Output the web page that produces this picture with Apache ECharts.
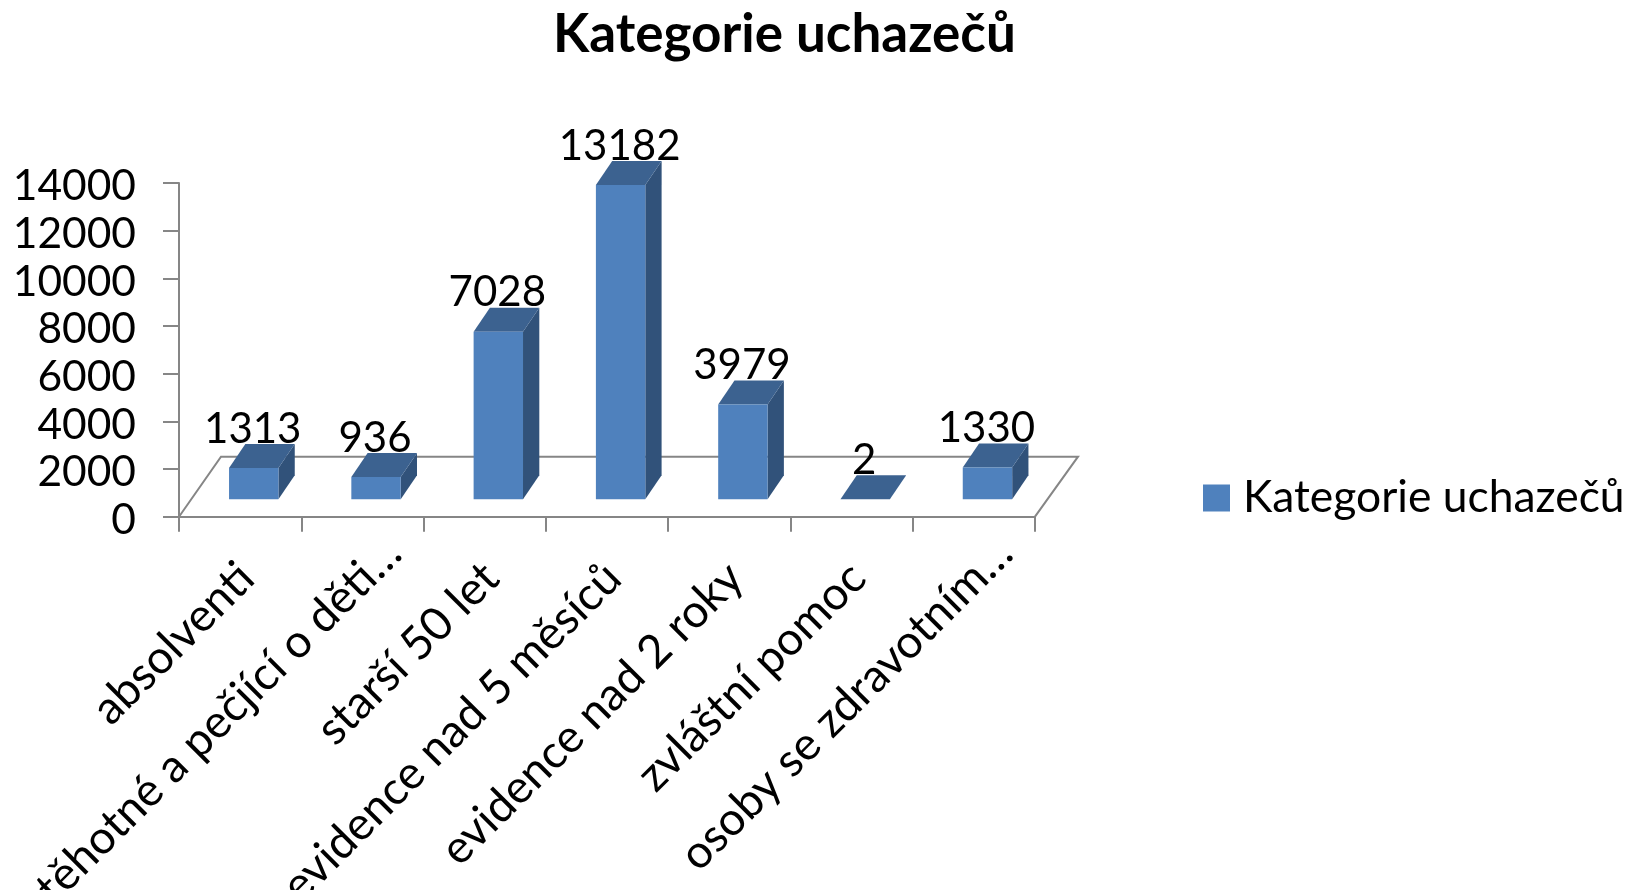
<!DOCTYPE html>
<html><head><meta charset="utf-8">
<style>html,body{margin:0;padding:0;background:#fff}#c{width:1626px;height:890px}</style>
<script src="https://cdn.jsdelivr.net/npm/echarts@6/dist/echarts.min.js"></script>
</head><body><div id="c"></div>
<script>
const categories = ['absolventi','těhotné a pečjící o děti…','starší 50 let','evidence nad 5 měsíců','evidence nad 2 roky','zvláštní pomoc','osoby se zdravotním…'];
const values = [1313,936,7028,13182,3979,2,1330];
const yTicks = [0,2000,4000,6000,8000,10000,12000,14000];
const seriesName = 'Kategorie uchazečů';
const FONT = 'Lato, Carlito, sans-serif';
const AXIS = '#868686';
const depth = {dx:16.3, dy:-24};
const shift = {dx:13.6, dy:-17.4};
const floorBack = {dx:42, dy:-60};
const barW = 49.4;
const chart = echarts.init(document.getElementById('c'));
chart.setOption({
  animation:false,
  backgroundColor:'#fff',
  title:{text:seriesName,left:553,top:8,padding:0,textStyle:{fontFamily:FONT,fontSize:53,fontWeight:'bold',color:'#000'}},
  legend:{left:1203,top:476,itemWidth:27,itemHeight:27,icon:'rect',itemGap:0,padding:0,
    textStyle:{fontFamily:FONT,fontSize:44.4,color:'#000',padding:[0,0,0,8]},data:[seriesName]},
  grid:{left:179,top:183,width:856,height:333.7,containLabel:false,outerBoundsMode:'none'},
  xAxis:{type:'category',data:categories,
    axisLine:{lineStyle:{color:AXIS,width:2}},
    axisTick:{show:true,length:15,alignWithLabel:false,lineStyle:{color:AXIS,width:2}},
    axisLabel:{interval:0,rotate:45,fontFamily:FONT,fontSize:46,color:'#000',margin:-2,hideOverlap:false,
      formatter:s=>s.endsWith('…')?'{e|'+s+'}':'{n|'+s+'}',
      rich:{e:{fontFamily:FONT,fontSize:46,color:'#000',padding:[88,0,0,0]},n:{fontFamily:FONT,fontSize:46,color:'#000',padding:[88,35,0,0]}}}},
  yAxis:{type:'value',min:0,max:14000,interval:2000,
    splitLine:{show:false},
    axisLine:{show:true,lineStyle:{color:AXIS,width:2}},
    axisTick:{show:true,length:16,lineStyle:{color:AXIS,width:2}},
    axisLabel:{fontFamily:FONT,fontSize:42.5,color:'#000',margin:43,
      formatter:v=>yTicks.includes(v)?'{t|'+v+'}':'',
      rich:{t:{fontFamily:FONT,fontSize:42.5,color:'#000',padding:[7,0,0,0]}}}},
  series:[
    {type:'custom',name:'floor',silent:true,z:1,legendHoverLink:false,
     data:[0],
     renderItem(p,api){
       const a=api.coord([0,0]), cw=api.size([1,0])[0];
       const x0=a[0]-cw/2, y0=a[1], x1=x0+cw*categories.length;
       return {type:'polyline',shape:{points:[[x0,y0],[x0+floorBack.dx,y0+floorBack.dy],[x1+floorBack.dx+1,y0+floorBack.dy],[x1,y0]]},
         style:{stroke:AXIS,lineWidth:2,fill:null}};
     }},
    {type:'custom',name:seriesName,z:2,
     itemStyle:{color:'#4F81BD'},
     data:values.map((v,i)=>[i,v]),
     encode:{x:0,y:1},
     renderItem(p,api){
       const i=api.value(0), v=api.value(1);
       const t=api.coord([i,v]), b=api.coord([i,0]);
       const xl=t[0]-barW/2+shift.dx, xr=xl+barW;
       const yt=t[1]+shift.dy, yb=b[1]+shift.dy;
       const d=depth;
       return {type:'group',children:[
         {type:'polygon',shape:{points:[[xr,yb],[xr+d.dx,yb+d.dy],[xr+d.dx,yt+d.dy],[xr,yt]]},style:{fill:'#31527A'}},
         {type:'polygon',shape:{points:[[xl,yt],[xr,yt],[xr+d.dx,yt+d.dy],[xl+d.dx,yt+d.dy]]},style:{fill:'#3C6290'}},
         {type:'rect',shape:{x:xl,y:yt,width:barW,height:yb-yt},style:{fill:'#4F81BD'}},
         {type:'text',z2:10,style:{text:String(v),x:(xl+xr)/2-1,y:yt+d.dy+6,align:'center',verticalAlign:'bottom',
            font:'42px '+FONT,fill:'#000'}}
       ]};
     }}
  ]
});
</script></body></html>
